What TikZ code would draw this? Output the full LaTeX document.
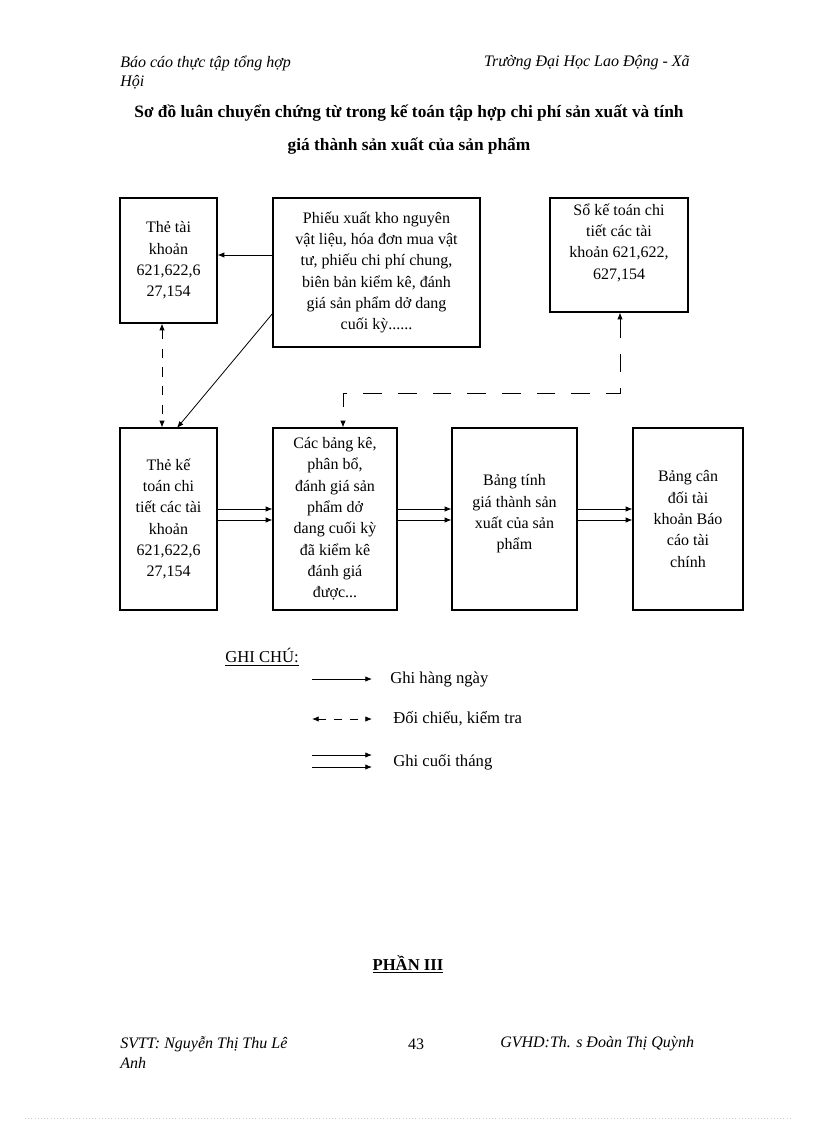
\documentclass[tikz,border=0pt]{standalone}
\usepackage{fontspec}
\setmainfont{Liberation Serif}
\usetikzlibrary{arrows.meta}
\begin{document}
\begin{tikzpicture}[x=0.75pt,y=-0.75pt,
  box/.style={draw,line width=0.9pt,align=center,inner sep=0pt,font=\fontsize{12}{16}\selectfont},
  txt/.style={inner sep=0pt,font=\fontsize{12.5}{15}\selectfont},
  hdr/.style={inner sep=0pt,anchor=west,font=\itshape\fontsize{12}{14}\selectfont},
  arr/.style={-{Latex[length=5pt,width=4pt]},line width=0.6pt},
  darr/.style={{Latex[length=5pt,width=4pt]}-{Latex[length=5pt,width=4pt]},line width=0.6pt,dash pattern=on 7pt off 7pt}]
\useasboundingbox (0,0) rectangle (816,1123);
% header
\node[hdr] (h1) at (120,63) {Báo cáo thực tập tổng hợp};
\node[hdr] (h2) at (120,82) {Hội};
\node[hdr,anchor=east] (h3) at (690,63) {Trường Đại Học Lao Động - Xã};
\node[txt,font=\bfseries\fontsize{13}{15}\selectfont] (t1) at (409,113) {Sơ đồ luân chuyển chứng từ trong kế toán tập hợp chi phí sản xuất và tính};
\node[txt,font=\bfseries\fontsize{13}{15}\selectfont] (t2) at (409,146) {giá thành sản xuất của sản phẩm};
% boxes
\node[box,minimum width=72.75pt,minimum height=93.75pt] (A) at (168.5,260.5) {Thẻ tài\\khoản\\621,622,6\\27,154};
\node[box,minimum width=155.25pt,minimum height=111.75pt] (B) at (376.5,272.5) {Phiếu xuất kho nguyên\\vật liệu, hóa đơn mua vật\\tư, phiếu chi phí chung,\\biên bản kiểm kê, đánh\\giá sản phẩm dở dang\\cuối kỳ......};
\node[box,minimum width=103.5pt,minimum height=85.5pt] (C) at (619,255) {};
\node[box,draw=none,anchor=north] (Ct) at (619,203) {Sổ kế toán chi\\tiết các tài\\khoản 621,622,\\627,154};
\node[box,minimum width=72.75pt,minimum height=136.5pt] (D) at (168.5,519) {Thẻ kế\\toán chi\\tiết các tài\\khoản\\621,622,6\\27,154};
\node[box,minimum width=93pt,minimum height=136.5pt] (E) at (335,519) {Các bảng kê,\\phân bổ,\\đánh giá sản\\phẩm dở\\dang cuối kỳ\\đã kiểm kê\\đánh giá\\được...};
\node[box,minimum width=93.75pt,minimum height=136.5pt] (F) at (514.5,519) {};
\node[box,draw=none] (Ft) at (514.5,514) {Bảng tính\\giá thành sản\\xuất của sản\\phẩm};
\node[box,minimum width=82.5pt,minimum height=136.5pt] (G) at (688,519) {Bảng cân\\đối tài\\khoản Báo\\cáo tài\\chính};
% connectors
\draw[arr] (B.west |- 0,255) -- (A.east |- 0,255);
\coordinate (bl) at (273,313);
\coordinate (dt) at (177,428);
\draw[arr] (bl) -- (dt);
\draw[darr] (A.south -| 162,0) -- (D.north -| 162,0);
\coordinate (c1) at (620,393);
\coordinate (c2) at (343,393);
\draw[{Latex[length=5pt,width=4pt]}-{Latex[length=5pt,width=4pt]},line width=0.6pt,dash pattern=on 14pt off 12pt] (C.south -| 620,0) -- (c1) -- (c2) -- (E.north -| 343,0);
\foreach \s/\t in {D/E,E/F,F/G}{
  \draw[arr] ([yshift=7.5pt]\s.east) -- ([yshift=7.5pt]\t.west);
  \draw[arr] ([yshift=-0.75pt]\s.east) -- ([yshift=-0.75pt]\t.west);
}
% legend
\node[txt,anchor=west] (gc) at (225,657) {\underline{GHI CHÚ:}};
\coordinate (l1a) at (312,679); \coordinate (l1b) at (372,679);
\draw[arr] (l1a) -- (l1b);
\node[txt,anchor=west] (g1) at (390,679) {Ghi hàng ngày};
\coordinate (l2a) at (312,719); \coordinate (l2b) at (372,719);
\draw[darr,dash pattern=on 6pt off 6pt] (l2a) -- (l2b);
\node[txt,anchor=west] (g2) at (393,719) {Đối chiếu, kiểm tra};
\coordinate (l3a) at (312,755); \coordinate (l3b) at (372,755);
\coordinate (l4a) at (312,767); \coordinate (l4b) at (372,767);
\draw[arr] (l3a) -- (l3b);
\draw[arr] (l4a) -- (l4b);
\node[txt,anchor=west] (g3) at (393,762) {Ghi cuối tháng};
\node[txt,font=\bfseries\fontsize{12.5}{15}\selectfont] (p3) at (408,964) {\underline{PHẦN III}};
% footer
\node[hdr] (f1) at (120,1044) {SVTT: Nguyễn Thị Thu Lê};
\node[hdr] (f2) at (120,1063) {Anh};
\node[txt,font=\fontsize{12}{14}\selectfont] (f3) at (416,1044) {43};
\node[hdr] (f4) at (500,1044) {GVHD:Th. s Đoàn Thị Quỳnh};
\draw[gray!40,dotted] (25,1118) -- (790,1118);
\end{tikzpicture}
\end{document}
